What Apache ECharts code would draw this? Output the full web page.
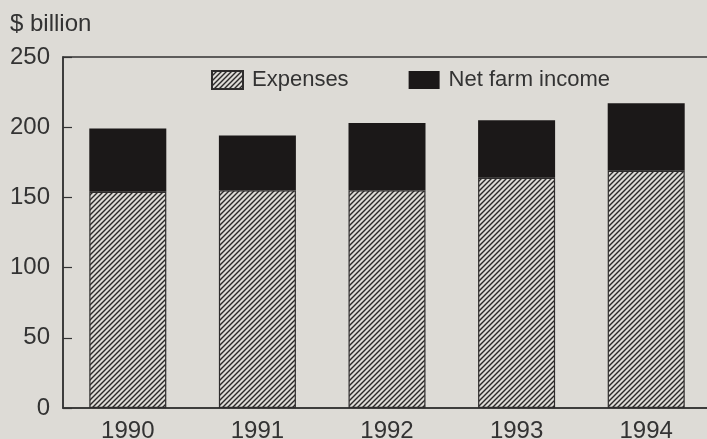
<!DOCTYPE html>
<html>
<head>
<meta charset="utf-8">
<script src="https://cdn.jsdelivr.net/npm/echarts@6/dist/echarts.min.js"></script>
<style>
html,body{margin:0;padding:0;background:#dddbd6;}
#c{width:707px;height:439px;}
</style>
</head>
<body>
<div id="c"></div>
<script>
const years = ['1990', '1991', '1992', '1993', '1994'];
const expenses = [154, 155, 155, 164, 169];
const netFarmIncome = [45, 39, 48, 41, 48];
const yMin = 0, yMax = 250, yStep = 50;
const unitLabel = '$ billion';

const BG = '#dddbd6';
const INK = '#333333';

function hatch() {
  const s = 5;
  const c = document.createElement('canvas');
  c.width = s; c.height = s;
  const g = c.getContext('2d');
  g.fillStyle = BG; g.fillRect(0, 0, s, s);
  g.strokeStyle = '#2b2929'; g.lineWidth = 1.4;
  g.beginPath();
  g.moveTo(0, s); g.lineTo(s, 0);
  g.moveTo(-1, 1); g.lineTo(1, -1);
  g.moveTo(s - 1, s + 1); g.lineTo(s + 1, s - 1);
  g.stroke();
  return c;
}

const chart = echarts.init(document.getElementById('c'), null, {renderer: 'canvas'});
const font = '"Liberation Sans", Arial, Helvetica, sans-serif';
chart.setOption({
  backgroundColor: BG,
  animation: false,
  textStyle: {fontFamily: font},
  title: {
    text: unitLabel, left: 5, top: 7,
    textStyle: {fontFamily: font, fontSize: 24, fontWeight: 'normal', color: INK}
  },
  legend: {
    left: 206, top: 64,
    itemWidth: 31, itemHeight: 18, itemGap: 60,
    icon: 'rect',
    textStyle: {fontFamily: font, fontSize: 22, color: INK, padding: [0, 0, 0, 4]},
    data: ['Expenses', 'Net farm income']
  },
  grid: {
    left: 63, top: 57, width: 648, height: 351,
    containLabel: false, outerBoundsMode: 'none',
    show: true, borderColor: INK, borderWidth: 1.5, backgroundColor: 'transparent'
  },
  xAxis: {
    type: 'category', data: years,
    axisLine: {show: true, lineStyle: {color: INK, width: 1.5}},
    axisTick: {show: false},
    axisLabel: {fontFamily: font, fontSize: 24, color: INK, margin: 11}
  },
  yAxis: {
    type: 'value', min: yMin, max: yMax, interval: yStep,
    axisLine: {show: true, lineStyle: {color: INK, width: 1.5}},
    axisTick: {show: true, inside: true, length: 9, lineStyle: {color: INK, width: 1.2}},
    splitLine: {show: false},
    axisLabel: {fontFamily: font, fontSize: 24, color: INK, margin: 13}
  },
  series: [
    {
      name: 'Expenses', type: 'bar', stack: 'total', data: expenses,
      barWidth: 77,
      itemStyle: {color: {image: hatch(), repeat: 'repeat'}, borderColor: '#2e2c2c', borderWidth: 1.2}
    },
    {
      name: 'Net farm income', type: 'bar', stack: 'total', data: netFarmIncome,
      barWidth: 77,
      itemStyle: {color: '#1b1818', borderColor: '#1b1818', borderWidth: 0}
    }
  ]
});
</script>
</body>
</html>
